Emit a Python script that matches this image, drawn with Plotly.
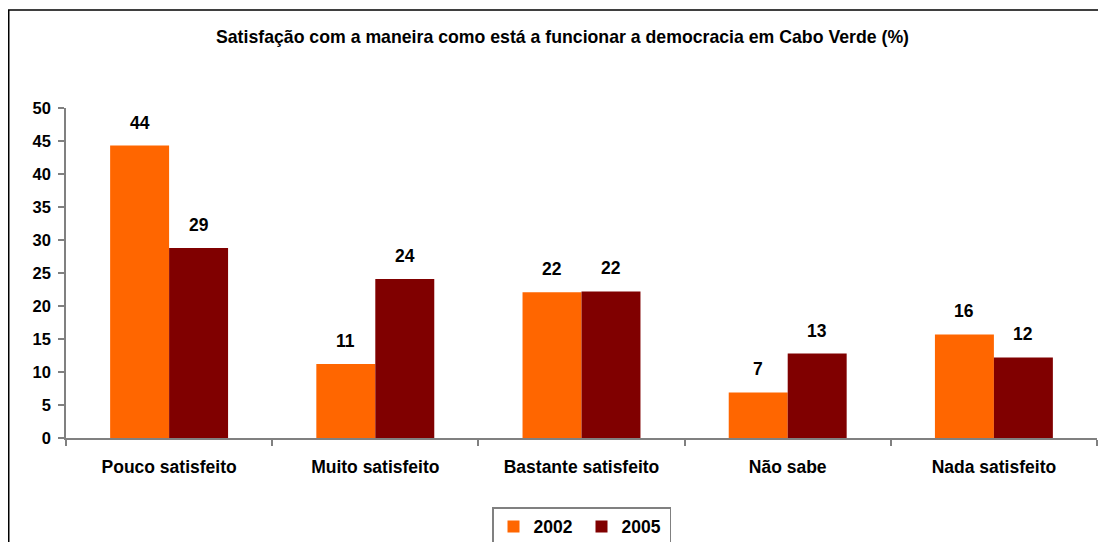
import plotly.graph_objects as go

categories = ["Pouco satisfeito", "Muito satisfeito", "Bastante satisfeito", "Não sabe", "Nada satisfeito"]
values_2002 = [44.3, 11.2, 22.1, 6.9, 15.7]
values_2005 = [28.8, 24.1, 22.2, 12.8, 12.2]
labels_2002 = ["44", "11", "22", "7", "16"]
labels_2005 = ["29", "24", "22", "13", "12"]
y_ticks = [0, 5, 10, 15, 20, 25, 30, 35, 40, 45, 50]

FONT = "Liberation Sans, Arial, sans-serif"
ORANGE = "#FF6600"
DARK = "#800000"

# page places the figure 8px from the top-left corner
W, H = 1098, 534
ML, MR, MT, MB = 58, 9, 100, 104
plot_w = W - ML - MR
plot_h = H - MT - MB
cat_w = plot_w / len(categories)
bargap = 0.428
bar_px = cat_w * (1 - bargap) / 2

fig = go.Figure()
fig.add_trace(go.Bar(name="2002", x=categories, y=values_2002, marker_color=ORANGE,
                     marker_line_width=0))
fig.add_trace(go.Bar(name="2005", x=categories, y=values_2005, marker_color=DARK,
                     marker_line_width=0))

label_font = dict(family=FONT, size=17.5, color="#000000", weight="bold")
annotations = []
for cat, v, t in zip(categories, values_2002, labels_2002):
    annotations.append(dict(x=cat, y=v, xref="x", yref="y", text=t, showarrow=False,
                            xshift=-bar_px / 2, yshift=11, yanchor="bottom", font=label_font))
for cat, v, t in zip(categories, values_2005, labels_2005):
    annotations.append(dict(x=cat, y=v, xref="x", yref="y", text=t, showarrow=False,
                            xshift=bar_px / 2, yshift=11, yanchor="bottom", font=label_font))

fig.update_layout(
    width=W, height=H,
    margin=dict(l=ML, r=MR, t=MT, b=MB, autoexpand=False),
    paper_bgcolor="white", plot_bgcolor="white",
    barmode="group", bargap=bargap, bargroupgap=0,
    title=dict(text="<b>Satisfação com a maneira como está a funcionar a democracia em Cabo Verde (%)</b>",
               x=0.505, xanchor="center", y=1 - 28.5 / H, yanchor="middle",
               font=dict(family=FONT, size=17.7, color="#000000")),
    font=dict(family=FONT, color="#000000"),
    showlegend=True,
    legend=dict(orientation="h", x=0.5, xanchor="center", xref="paper",
                y=1 - 499 / H, yanchor="top", yref="container",
                bordercolor="#808080", borderwidth=1.5, bgcolor="white",
                font=dict(family=FONT, size=17.5, color="#000000", weight="bold"),
                itemwidth=30, entrywidth=43, tracegroupgap=0),
    annotations=annotations,
    shapes=[dict(type="rect", xref="paper", yref="paper",
                 x0=(0.75 - ML) / plot_w, x1=(W + 5 - ML) / plot_w,
                 y0=-(MB + 5) / plot_h, y1=1 + (MT - 2) / plot_h,
                 line=dict(color="#000000", width=1.5), fillcolor="rgba(0,0,0,0)", layer="below")],
)

fig.update_xaxes(
    showline=True, linecolor="#808080", linewidth=1.5,
    ticks="outside", tickson="boundaries", ticklen=6, tickcolor="#808080", tickwidth=1.5,
    tickfont=dict(family=FONT, size=17.5, color="#000000", weight="bold"),
    ticklabelstandoff=12, showgrid=False, zeroline=False, automargin=False,
)
fig.update_yaxes(
    range=[0, 50], tickvals=y_ticks, ticktext=[str(v) for v in y_ticks],
    showline=True, linecolor="#808080", linewidth=1.5,
    ticks="outside", ticklen=6, tickcolor="#808080", tickwidth=1.5,
    tickfont=dict(family=FONT, size=16.5, color="#000000", weight="bold"),
    ticklabelstandoff=4, showgrid=False, zeroline=False, automargin=False,
)

fig.write_html("out.html")
